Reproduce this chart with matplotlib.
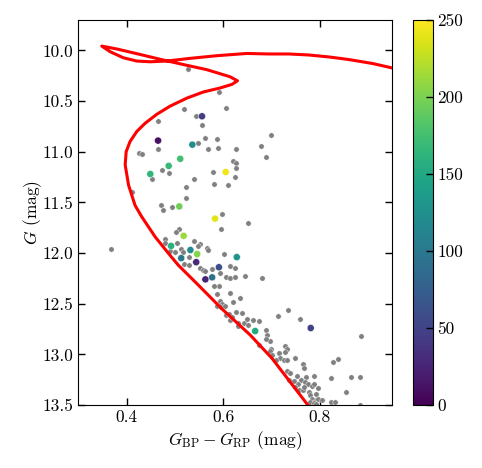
import matplotlib
matplotlib.use("Agg")
import matplotlib.pyplot as plt
import numpy as np

plt.rcParams['font.family'] = 'serif'
plt.rcParams['font.serif'] = ['cmr10', 'DejaVu Serif']
plt.rcParams['mathtext.fontset'] = 'cm'
plt.rcParams['axes.formatter.use_mathtext'] = True
plt.rcParams['axes.unicode_minus'] = False
plt.rcParams['font.size'] = 12.5

# isochrone (colour, magnitude), from the lower main sequence up to the giant branch
iso_color = [0.793, 0.775, 0.738, 0.701, 0.656, 0.597, 0.545, 0.507, 0.486, 0.459,
             0.431, 0.4175, 0.404, 0.397, 0.399, 0.407, 0.421, 0.438, 0.4625, 0.490,
             0.525, 0.559, 0.594, 0.618, 0.6295, 0.614, 0.566, 0.518, 0.476, 0.428,
             0.380, 0.3485, 0.366, 0.393, 0.421, 0.449, 0.483, 0.532, 0.587, 0.649,
             0.694, 0.735, 0.777, 0.820, 0.860, 0.910, 0.956, 1.000]
iso_mag = [13.60, 13.50, 13.27, 13.04, 12.81, 12.55, 12.30, 12.12, 12.00, 11.84,
           11.64, 11.53, 11.33, 11.13, 11.00, 10.90, 10.80, 10.72, 10.63, 10.55,
           10.47, 10.41, 10.37, 10.335, 10.30, 10.26, 10.19, 10.14, 10.095, 10.04,
           9.986, 9.957, 10.013, 10.072, 10.105, 10.112, 10.105, 10.078, 10.052, 10.03,
           10.035, 10.035, 10.045, 10.065, 10.09, 10.13, 10.18, 10.24]

# stars without a value
grey_color = [0.526, 0.592, 0.518, 0.605, 0.544, 0.465, 0.555, 0.699, 0.562, 0.588,
              0.547, 0.569, 0.590, 0.627, 0.679, 0.688, 0.464, 0.426, 0.432, 0.621,
              0.627, 0.473, 0.487, 0.452, 0.578, 0.627, 0.625, 0.540, 0.580, 0.610,
              0.522, 0.412, 0.523, 0.472, 0.475, 0.494, 0.598, 0.651, 0.596, 0.508,
              0.503, 0.479, 0.480, 0.505, 0.539, 0.551, 0.547, 0.368, 0.567, 0.568,
              0.602, 0.489, 0.500, 0.512, 0.516, 0.530, 0.518, 0.530, 0.552, 0.558,
              0.563, 0.614, 0.625, 0.576, 0.594, 0.606, 0.614, 0.625, 0.645, 0.681,
              0.592, 0.581, 0.614, 0.588, 0.635, 0.621, 0.594, 0.598, 0.588, 0.595,
              0.604, 0.605, 0.611, 0.627, 0.638, 0.614, 0.618, 0.631, 0.642, 0.649,
              0.661, 0.675, 0.652, 0.630, 0.713, 0.734, 0.758, 0.689, 0.690, 0.696,
              0.689, 0.728, 0.675, 0.699, 0.732, 0.697, 0.701, 0.715, 0.718, 0.725,
              0.728, 0.732, 0.710, 0.749, 0.827, 0.838, 0.766, 0.768, 0.732, 0.739,
              0.753, 0.761, 0.772, 0.787, 0.824, 0.865, 0.884, 0.737, 0.746, 0.754,
              0.770, 0.775, 0.784, 0.787, 0.797, 0.749, 0.756, 0.765, 0.768, 0.777,
              0.780, 0.791, 0.854, 0.784, 0.791, 0.797, 0.804, 0.822, 0.832, 0.780,
              0.787, 0.793, 0.884, 0.886]
grey_mag = [10.18, 10.41, 10.58, 10.57, 10.65, 10.70, 10.74, 10.83, 10.86, 10.87,
            10.91, 10.97, 10.96, 10.97, 10.94, 11.05, 10.97, 11.01, 11.02, 11.09,
            11.11, 11.18, 11.21, 11.27, 11.20, 11.16, 11.25, 11.27, 11.32, 11.33,
            11.35, 11.40, 11.46, 11.53, 11.58, 11.55, 11.61, 11.70, 11.76, 11.76,
            11.79, 11.86, 11.90, 11.90, 11.88, 11.91, 11.93, 11.96, 11.95, 11.97,
            12.01, 11.98, 11.99, 11.96, 11.99, 12.04, 12.11, 12.12, 12.15, 12.17,
            12.18, 12.13, 12.15, 12.16, 12.20, 12.24, 12.25, 12.24, 12.23, 12.25,
            12.33, 12.33, 12.39, 12.40, 12.44, 12.48, 12.47, 12.50, 12.52, 12.53,
            12.52, 12.61, 12.60, 12.58, 12.59, 12.66, 12.63, 12.69, 12.69, 12.65,
            12.66, 12.67, 12.71, 12.72, 12.62, 12.56, 12.65, 12.76, 12.81, 12.87,
            12.85, 12.92, 12.91, 12.95, 12.95, 12.97, 13.01, 12.99, 13.04, 13.06,
            12.98, 13.06, 13.06, 13.04, 13.08, 13.05, 13.10, 13.13, 13.16, 13.18,
            13.21, 13.25, 13.22, 13.21, 13.23, 13.22, 13.22, 13.25, 13.26, 13.29,
            13.27, 13.29, 13.31, 13.29, 13.33, 13.32, 13.35, 13.35, 13.32, 13.37,
            13.40, 13.39, 13.37, 13.44, 13.45, 13.44, 13.45, 13.47, 13.47, 13.47,
            13.48, 13.49, 13.50, 12.82]

# stars with a measured value (colour-coded)
val_color = [0.556, 0.465, 0.536, 0.511, 0.487, 0.449, 0.605, 0.509, 0.583, 0.518,
             0.492, 0.532, 0.546, 0.628, 0.513, 0.544, 0.591, 0.577, 0.563, 0.666,
             0.781]
val_mag = [10.65, 10.89, 10.93, 11.07, 11.14, 11.22, 11.20, 11.54, 11.66, 11.83,
           11.93, 11.97, 12.01, 12.04, 12.05, 12.09, 12.14, 12.24, 12.26, 12.77,
           12.74]
val = [45, 10, 122, 175, 168, 165, 245, 195, 240, 212,
       160, 120, 205, 128, 100, 30, 60, 92, 25, 152,
       48]

fig = plt.figure(figsize=(4.82, 4.68), dpi=100)
ax = fig.add_axes([0.1625, 0.1346, 0.6515, 0.8226])
cax = fig.add_axes([0.857, 0.1346, 0.0405, 0.8226])

ax.scatter(grey_color, grey_mag, s=15, c='gray', edgecolors='white', linewidths=0.3, zorder=2)
sc = ax.scatter(val_color, val_mag, c=val, cmap='viridis', vmin=0, vmax=250, s=26,
                edgecolors='white', linewidths=0.3, zorder=3)
ax.plot(iso_color, iso_mag, color='red', lw=2.2, solid_joinstyle='round', zorder=4)

ax.set_xlim(0.3, 0.95)
ax.set_ylim(13.5, 9.7)
ax.set_xticks([0.4, 0.6, 0.8])
ax.set_xticklabels(['0.4', '0.6', '0.8'])
ax.set_yticks(np.arange(10.0, 13.51, 0.5))
ax.set_yticklabels(['%.1f' % v for v in np.arange(10.0, 13.51, 0.5)])
ax.tick_params(direction='in', top=True, right=True, length=5, width=1)
ax.set_xlabel(r'$G_{\rm BP} - G_{\rm RP}$ (mag)', labelpad=3)
ax.set_ylabel(r'$G$ (mag)')
ax.yaxis.set_label_coords(-0.11, 0.5)

cb = fig.colorbar(sc, cax=cax)
cb.set_ticks([0, 50, 100, 150, 200, 250])
cb.set_ticklabels(['0', '50', '100', '150', '200', '250'])
cax.tick_params(direction='in', length=5, width=1)

fig.savefig('out.png', dpi=100)
